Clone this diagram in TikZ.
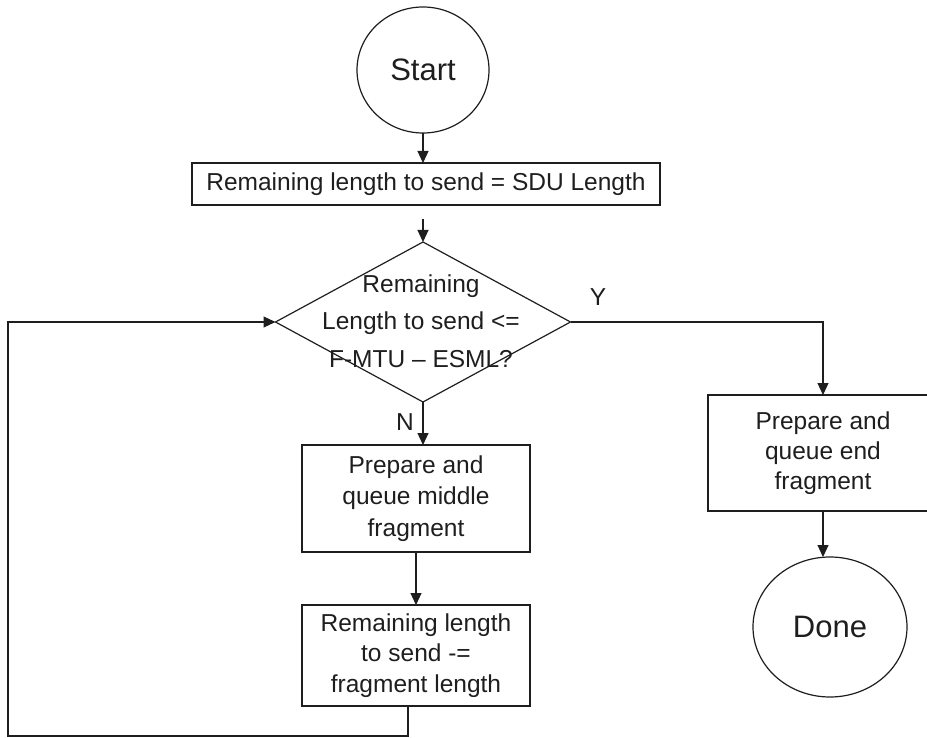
\documentclass[tikz,border=0pt]{standalone}
\usepackage{fontspec}
\setmainfont{Liberation Sans}
\usetikzlibrary{shapes.geometric,arrows.meta}
\definecolor{ink}{HTML}{1E1E1E}
\begin{document}
\begin{tikzpicture}[x=1pt,y=-1pt,
  every node/.style={text=ink},
  flow/.style={draw=ink, line width=1.2pt, -{Triangle[width=11pt,length=12pt]}},
  stepbox/.style={draw=ink, line width=1.2pt, rectangle, inner sep=0pt, outer sep=0pt,
    align=center, font=\fontsize{24.5}{31.5}\selectfont},
  term/.style={draw=ink, line width=1.2pt, ellipse, inner sep=0pt, outer sep=0pt,
    font=\fontsize{31}{36}\selectfont},
  branch/.style={font=\fontsize{24.5}{24.5}\selectfont},
]
\useasboundingbox (0,0) rectangle (927,738);

% terminals
\node[term, minimum width=132pt, minimum height=126pt] (start) at (423,70) {Start};
\node[term, minimum width=154pt, minimum height=140pt] (done) at (830,627) {Done};

% process steps
\node[stepbox, minimum width=468pt, minimum height=42pt] (init) at (426,184)
  {Remaining length to send = SDU Length};
\node[stepbox, minimum width=228pt, minimum height=107pt] (mid) at (416,498.5)
  {Prepare and\\queue middle\\fragment};
\node[stepbox, minimum width=228pt, minimum height=101pt,
  font=\fontsize{24.5}{30.5}\selectfont] (upd) at (416,655.5)
  {Remaining length\\to send -=\\fragment length};
\node[stepbox, minimum width=230pt, minimum height=116pt,
  font=\fontsize{24.5}{30}\selectfont] (endf) at (823,453)
  {Prepare and\\queue end\\fragment};

% decision
\node[diamond, draw=ink, line width=1.2pt, minimum width=295pt, minimum height=160pt,
  inner sep=0pt, outer sep=0pt] (dec) at (423,322) {};
\node[align=center, font=\fontsize{24.5}{37.5}\selectfont] (dectext) at (421,321)
  {Remaining\\Length to send <=\\F-MTU – ESML?};

% branch labels
\node[branch] (ylab) at (598,297) {Y};
\node[branch] (nlab) at (405,422) {N};

% connectors
\draw[flow] (start.south) -- (start.south |- init.north);
\draw[flow, shorten <=14pt] (init.south -| dec.north) -- (dec.north);
\draw[flow] (dec.east) -- (dec.east -| endf.north) -- (endf.north);
\draw[flow] (dec.south) -- (dec.south |- mid.north);
\draw[flow] (mid.south) -- (upd.north);
\draw[flow] (endf.south) -- (endf.south |- done.north);

% loop back to the decision
\coordinate (loopa) at (408,736);
\coordinate (loopb) at (8,736);
\draw[flow] ([xshift=-8pt]upd.south) -- (loopa) -- (loopb) -- (loopb |- dec.west) -- (dec.west);
\end{tikzpicture}
\end{document}
